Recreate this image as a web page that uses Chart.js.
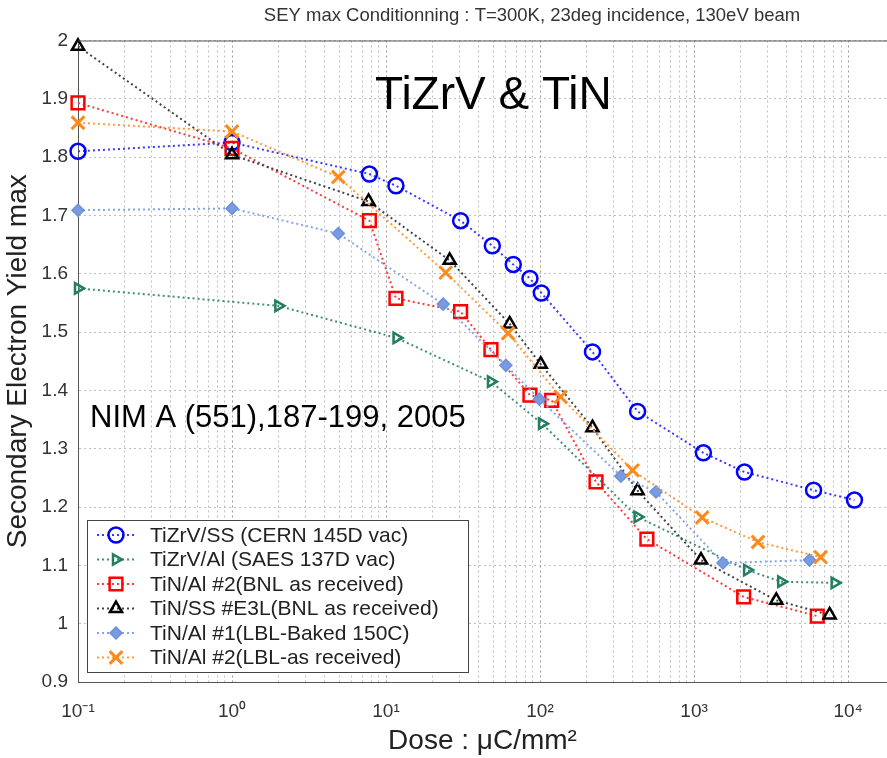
<!DOCTYPE html>
<html>
<head>
<meta charset="utf-8">
<script src="https://cdn.jsdelivr.net/npm/chart.js@4.4.0/dist/chart.umd.min.js"></script>
<style>
  body { margin: 0; background: #fff; overflow: hidden; }
  #outer { width: 887px; height: 758px; overflow: hidden; }
  #wrap { width: 899px; height: 758px; position: relative; }
</style>
</head>
<body>
<div id="outer"><div id="wrap"><canvas id="mycanvas"></canvas></div></div>
<script>
// dose (uC/mm2) and SEY max
const tizrvSsDose = [0.1, 1, 7.8, 11.6, 30.5, 49, 67, 86, 102, 219, 430, 1150, 2125, 5970, 11000];
const tizrvSsSey  = [1.81, 1.825, 1.771, 1.751, 1.691, 1.648, 1.616, 1.592, 1.567, 1.466, 1.364, 1.293, 1.26, 1.229, 1.212];

const tizrvAlDose = [0.1, 2, 11.7, 48, 103, 430, 2210, 3680, 8180];
const tizrvAlSey  = [1.575, 1.545, 1.49, 1.415, 1.343, 1.183, 1.092, 1.072, 1.07];

const tinAlBnlDose = [0.1, 1, 7.8, 11.6, 30.5, 48, 86, 119, 231, 494, 2100, 6310];
const tinAlBnlSey  = [1.893, 1.815, 1.691, 1.558, 1.535, 1.47, 1.392, 1.383, 1.243, 1.145, 1.046, 1.013];

const tinSsDose = [0.1, 1, 7.7, 25.9, 63.5, 101, 219, 430, 1110, 3420, 7590];
const tinSsSey  = [1.99, 1.804, 1.724, 1.623, 1.514, 1.445, 1.336, 1.228, 1.109, 1.04, 1.015];

const tinAlBakedDose = [0.1, 1, 4.9, 23.5, 60, 99, 335, 566, 1540, 5620];
const tinAlBakedSey  = [1.709, 1.712, 1.669, 1.548, 1.443, 1.385, 1.253, 1.226, 1.104, 1.109];

const tinAlLblDose = [0.1, 1, 4.9, 24.4, 62, 136, 399, 1130, 2600, 6640];
const tinAlLblSey  = [1.859, 1.844, 1.766, 1.602, 1.498, 1.389, 1.263, 1.182, 1.14, 1.114];

const seriesNames = [
  'TiZrV/SS (CERN 145D vac)',
  'TiZrV/Al (SAES 137D vac)',
  'TiN/Al #2(BNL as received)',
  'TiN/SS #E3L(BNL as received)',
  'TiN/Al #1(LBL-Baked 150C)',
  'TiN/Al #2(LBL-as received)'
];

const xDecades = [0.1, 1, 10, 100, 1000, 10000];
const xTickLabels = ['10\u207B\u00B9', '10\u2070', '10\u00B9', '10\u00B2', '10\u00B3', '10\u2074'];
const yTickValues = [0.9, 1, 1.1, 1.2, 1.3, 1.4, 1.5, 1.6, 1.7, 1.8, 1.9, 2];
const yTickLabels = ['0.9', '1', '1.1', '1.2', '1.3', '1.4', '1.5', '1.6', '1.7', '1.8', '1.9', '2'];

const titleText = 'SEY max Conditionning : T=300K, 23deg incidence, 130eV beam';

function pts(xs, ys) {
  return xs.map((x, i) => ({ x: x, y: ys[i] }));
}

function series(i, xs, ys, color, lineColor, style, radius, bw, fill, rot) {
  return {
    label: seriesNames[i],
    data: pts(xs, ys),
    borderColor: lineColor,
    borderWidth: 2,
    borderDash: [2, 3],
    pointStyle: style,
    pointRotation: rot || 0,
    pointRadius: radius,
    pointBorderWidth: bw,
    pointBorderColor: color,
    pointBackgroundColor: fill,
    fill: false,
    tension: 0,
    clip: false,
    order: 6 - i
  };
}

const datasets = [
  series(0, tizrvSsDose, tizrvSsSey, '#0000ff', '#3a3aff', 'circle', 7.5, 2.5, 'rgba(255,255,255,0)'),
  series(1, tizrvAlDose, tizrvAlSey, '#237d5f', '#3f8f74', 'triangle', 6, 2.5, 'rgba(255,255,255,0)', 90),
  series(2, tinAlBnlDose, tinAlBnlSey, '#ff0000', '#ff3a3a', 'rect', 9, 2.5, 'rgba(255,255,255,0)'),
  series(3, tinSsDose, tinSsSey, '#000000', '#444444', 'triangle', 7, 2.5, 'rgba(255,255,255,0)'),
  series(4, tinAlBakedDose, tinAlBakedSey, '#6d91dc', '#86a5e6', 'rectRot', 6, 1.5, '#7b9be0'),
  series(5, tinAlLblDose, tinAlLblSey, '#ff8a1c', '#ff9a3a', 'crossRot', 9, 3, '#ff8a1c')
];

const extras = {
  id: 'extras',
  afterDraw(chart) {
    const ctx = chart.ctx, a = chart.chartArea;
    ctx.save();
    // top frame line
    ctx.strokeStyle = '#555';
    ctx.lineWidth = 1;
    ctx.setLineDash([]);
    ctx.beginPath();
    ctx.moveTo(a.left, a.top + 0.5);
    ctx.lineTo(a.right, a.top + 0.5);
    ctx.stroke();

    // title
    ctx.fillStyle = '#333';
    ctx.font = '18.5px "Liberation Sans", Arial, sans-serif';
    ctx.textAlign = 'center';
    ctx.textBaseline = 'middle';
    ctx.fillText(titleText, 532, 16);

    // annotations
    ctx.fillStyle = '#000';
    ctx.textAlign = 'left';
    ctx.font = '46px "Liberation Sans", Arial, sans-serif';
    ctx.fillText('TiZrV & TiN', 375, 96);
    ctx.font = '31px "Liberation Sans", Arial, sans-serif';
    ctx.fillText('NIM A (551),187-199, 2005', 90, 418);

    // legend box
    ctx.fillStyle = '#fff';
    ctx.fillRect(87, 520, 381, 152);
    ctx.strokeStyle = '#444';
    ctx.lineWidth = 1;
    ctx.strokeRect(87.5, 520.5, 381, 152);
    ctx.font = '21px "Liberation Sans", Arial, sans-serif';
    chart.data.datasets.forEach((ds, i) => {
      const y = 535 + i * 24.5;
      ctx.strokeStyle = ds.borderColor;
      ctx.lineWidth = 2;
      ctx.setLineDash(ds.borderDash);
      ctx.beginPath();
      ctx.moveTo(97, y);
      ctx.lineTo(135, y);
      ctx.stroke();
      ctx.setLineDash([]);
      ctx.strokeStyle = ds.pointBorderColor;
      ctx.fillStyle = ds.pointBackgroundColor;
      ctx.lineWidth = ds.pointBorderWidth;
      Chart.helpers.drawPoint(ctx, {
        pointStyle: ds.pointStyle,
        rotation: ds.pointRotation,
        radius: ds.pointRadius,
        borderWidth: ds.pointBorderWidth
      }, 116, y);
      ctx.fillStyle = '#222';
      ctx.fillText(ds.label, 150, y + 1);
    });
    ctx.restore();
  }
};

const config = {
  type: 'line',
  data: { datasets: datasets },
  options: {
    responsive: true,
    maintainAspectRatio: false,
    animation: false,
    layout: { padding: { top: 40.5, right: 0, left: 0, bottom: 0 } },
    plugins: {
      legend: { display: false },
      tooltip: { enabled: false },
      title: { display: false }
    },
    scales: {
      x: {
        type: 'logarithmic',
        min: 0.1,
        max: 17900,
        afterBuildTicks: (axis) => {
          const t = [];
          xDecades.forEach((d) => {
            for (let m = 1; m <= 9; m++) {
              const v = d * m;
              if (v <= axis.max) t.push({ value: v, major: m === 1 });
            }
          });
          axis.ticks = t;
        },
        afterFit: (scale) => {
          scale.height = 76;
        },
        ticks: {
          autoSkip: false,
          maxRotation: 0,
          padding: 18,
          color: '#333',
          font: { size: 19, family: '"Liberation Sans", Arial, sans-serif' },
          callback: (value) => {
            const k = xDecades.findIndex((d) => Math.abs(value - d) / d < 1e-6);
            return k >= 0 ? xTickLabels[k] : '';
          }
        },
        grid: {
          drawTicks: false,
          color: (c) => (c.tick && c.tick.major ? '#999' : '#bdbdbd'),
          lineWidth: 1
        },
        border: { display: true, color: '#555', width: 1, dash: [2, 3] },
        title: {
          display: true,
          text: 'Dose : \u03BCC/mm\u00B2',
          color: '#222',
          font: { size: 28, family: '"Liberation Sans", Arial, sans-serif' },
          padding: { top: 0, bottom: 0 }
        }
      },
      y: {
        type: 'linear',
        min: 0.9,
        max: 2,
        afterBuildTicks: (axis) => {
          axis.ticks = yTickValues.map((v) => ({ value: v }));
        },
        afterFit: (scale) => { scale.width = 78; },
        ticks: {
          padding: 10,
          color: '#333',
          font: { size: 19, family: '"Liberation Sans", Arial, sans-serif' },
          callback: (value, index) => yTickLabels[index]
        },
        grid: {
          drawTicks: false,
          color: '#bdbdbd',
          lineWidth: 1
        },
        border: { display: true, color: '#555', width: 1, dash: [2, 3] },
        title: {
          display: true,
          text: 'Secondary Electron Yield max',
          color: '#222',
          font: { size: 28, family: '"Liberation Sans", Arial, sans-serif' },
          padding: { top: 1, bottom: 0 }
        }
      }
    }
  },
  plugins: [extras]
};

const ctx = document.getElementById('mycanvas');
const myChart = new Chart(ctx, config);
</script>
</body>
</html>
